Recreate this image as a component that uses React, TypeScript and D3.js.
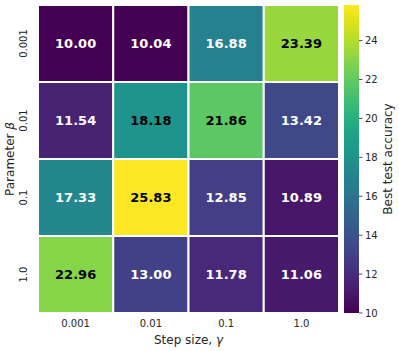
import React from 'react';
import * as d3 from 'd3';

const W = 399;
const H = 351;
const LEFT = 38;
const TOP = 5;
const RIGHT = 339;
const BOTTOM = 313;
const CBAR_X = 344;
const CBAR_W = 15;

const stepSizes = ['0.001', '0.01', '0.1', '1.0'];
const betas = ['0.001', '0.01', '0.1', '1.0'];
// rows = beta, columns = step size
const accuracy = [
  [10.0, 10.04, 16.88, 23.39],
  [11.54, 18.18, 21.86, 13.42],
  [17.33, 25.83, 12.85, 10.89],
  [22.96, 13.0, 11.78, 11.06],
];
const cbarTicks = [10, 12, 14, 16, 18, 20, 22, 24];

const FONT = 'DejaVu Sans, sans-serif';

const App = () => {
  const vmin = 10;
  const vmax = d3.max(accuracy.flat()) as number;
  const color = d3.scaleSequential(d3.interpolateViridis).domain([vmin, vmax]);
  const x = d3.scaleBand().domain(stepSizes).range([LEFT, RIGHT]);
  const y = d3.scaleBand().domain(betas).range([TOP, BOTTOM]);
  const cy = d3.scaleLinear().domain([vmin, vmax]).range([BOTTOM, TOP]);

  // dark text on the upper half of the colour range
  const mid = (vmin + vmax) / 2;
  const textColor = (v: number) => (v > mid ? 'black' : 'white');

  const stops = d3.range(0, 1.0001, 0.05);

  return (
    <svg width={W} height={H} style={{ position: 'absolute', left: 0, top: 0 }}>
      <defs>
        <linearGradient id="cbar" x1="0" y1="1" x2="0" y2="0">
          {stops.map((t) => (
            <stop key={t} offset={t} stopColor={d3.interpolateViridis(t)} />
          ))}
        </linearGradient>
      </defs>
      <rect width={W} height={H} fill="white" />
      {accuracy.map((row, i) =>
        row.map((v, j) => (
          <g key={`${i}-${j}`}>
            <rect
              x={x(stepSizes[j])}
              y={y(betas[i])}
              width={x.bandwidth()}
              height={y.bandwidth()}
              fill={color(v)}
              stroke="white"
              strokeWidth={2}
            />
            <text
              x={(x(stepSizes[j]) as number) + x.bandwidth() / 2}
              y={(y(betas[i]) as number) + y.bandwidth() / 2}
              textAnchor="middle"
              dominantBaseline="central"
              fontFamily={FONT}
              fontWeight="bold"
              fontSize={13}
              fill={textColor(v)}
            >
              {v.toFixed(2)}
            </text>
          </g>
        ))
      )}
      {stepSizes.map((s) => (
        <text
          key={s}
          x={(x(s) as number) + x.bandwidth() / 2}
          y={327}
          textAnchor="middle"
          fontFamily={FONT}
          fontSize={10}
          fill="#262626"
        >
          {s}
        </text>
      ))}
      {betas.map((b) => {
        const yy = (y(b) as number) + y.bandwidth() / 2;
        return (
          <text
            key={b}
            transform={`translate(27,${yy}) rotate(-90)`}
            textAnchor="middle"
            fontFamily={FONT}
            fontSize={10}
            fill="#262626"
          >
            {b}
          </text>
        );
      })}
      <text x={(LEFT + RIGHT) / 2} y={344} textAnchor="middle" fontFamily={FONT} fontSize={12} fill="#262626">
        Step size, <tspan fontStyle="italic">γ</tspan>
      </text>
      <text
        transform={`translate(14,${(TOP + BOTTOM) / 2}) rotate(-90)`}
        textAnchor="middle"
        fontFamily={FONT}
        fontSize={12}
        fill="#262626"
      >
        Parameter <tspan fontStyle="italic">β</tspan>
      </text>
      <rect x={CBAR_X} y={TOP} width={CBAR_W} height={BOTTOM - TOP} fill="url(#cbar)" />
      {cbarTicks.map((t) => (
        <g key={t} transform={`translate(${CBAR_X + CBAR_W},${cy(t)})`}>
          <line x2={3.5} stroke="#262626" strokeWidth={0.8} />
          <text x={6} dy="0.35em" fontFamily={FONT} fontSize={10} fill="#262626">
            {t}
          </text>
        </g>
      ))}
      <text
        transform={`translate(392,${(TOP + BOTTOM) / 2}) rotate(-90)`}
        textAnchor="middle"
        fontFamily={FONT}
        fontSize={12}
        fill="#262626"
      >
        Best test accuracy
      </text>
    </svg>
  );
};

export default App;
